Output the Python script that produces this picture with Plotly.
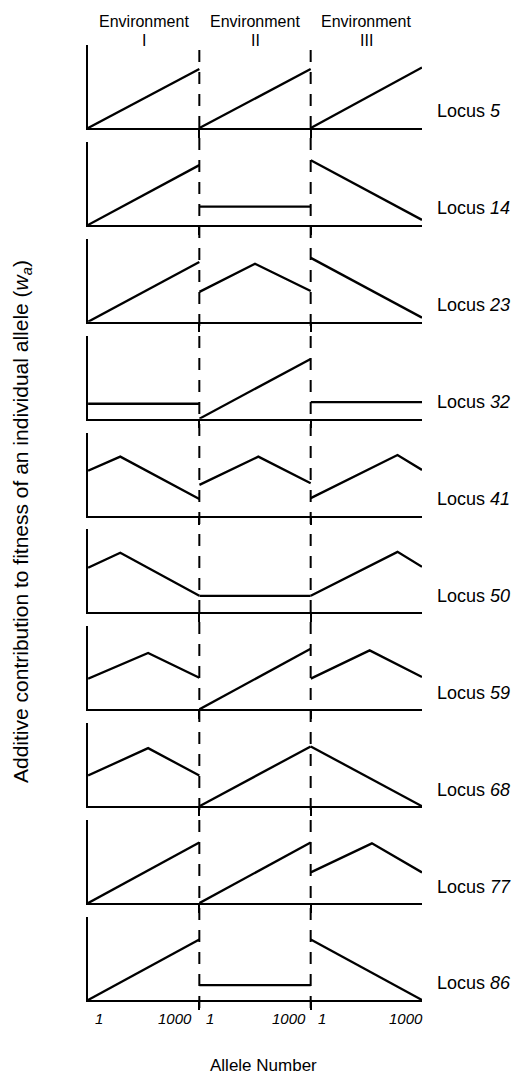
import plotly.graph_objects as go

# Each locus: three environments, each a list of (allele number, additive contribution)
# breakpoints.  Contributions are relative to the height of the panel (0 .. 1).
locus_5 = [[(1, 0.0), (1000, 0.71)], [(1, 0.0), (1000, 0.71)], [(1, 0.0), (1000, 0.73)]]
locus_14 = [[(1, 0.0), (1000, 0.72)], [(1, 0.22), (1000, 0.22)], [(1, 0.78), (1000, 0.06)]]
locus_23 = [[(1, 0.0), (1000, 0.72)], [(1, 0.36), (500, 0.70), (1000, 0.37)], [(1, 0.77), (1000, 0.05)]]
locus_32 = [[(1, 0.18), (1000, 0.18)], [(1, 0.0), (1000, 0.72)], [(1, 0.20), (1000, 0.20)]]
locus_41 = [[(1, 0.54), (290, 0.71), (1000, 0.20)], [(1, 0.37), (530, 0.71), (1000, 0.39)],
            [(1, 0.21), (780, 0.73), (1000, 0.55)]]
locus_50 = [[(1, 0.54), (290, 0.72), (1000, 0.20)], [(1, 0.20), (1000, 0.20)],
            [(1, 0.20), (780, 0.73), (1000, 0.55)]]
locus_59 = [[(1, 0.37), (540, 0.68), (1000, 0.38)], [(1, 0.0), (1000, 0.73)],
            [(1, 0.37), (530, 0.71), (1000, 0.39)]]
locus_68 = [[(1, 0.37), (540, 0.70), (1000, 0.37)], [(1, 0.0), (1000, 0.72)], [(1, 0.72), (1000, 0.0)]]
locus_77 = [[(1, 0.0), (1000, 0.73)], [(1, 0.0), (1000, 0.73)], [(1, 0.37), (550, 0.72), (1000, 0.37)]]
locus_86 = [[(1, 0.0), (1000, 0.73)], [(1, 0.18), (1000, 0.18)], [(1, 0.73), (1000, 0.0)]]

locus_ids = [5, 14, 23, 32, 41, 50, 59, 68, 77, 86]
loci = [locus_5, locus_14, locus_23, locus_32, locus_41, locus_50, locus_59, locus_68, locus_77, locus_86]

environments = ["I", "II", "III"]
alleles_per_env = 1000
tick_first, tick_last = "1", "1000"

# ---- layout geometry (pixels) ----
W, H = 520, 1079
ML, MR, MT, MB = 88, 98, 45, 79
plot_h = H - MT - MB
plot_w = W - ML - MR
panel_h = 83
pitch = (plot_h - panel_h) / (len(loci) - 1)


def py(px):
    """pixel row -> paper y"""
    return (H - MB - px) / plot_h


def pxx(px):
    """pixel column -> paper x"""
    return (px - ML) / plot_w


FONT = "Liberation Sans, Arial, Helvetica, sans-serif"
INK = "black"

fig = go.Figure()
layout_axes = {}
annotations = []

for i, (lid, segs) in enumerate(zip(locus_ids, loci)):
    k = i + 1
    sfx = "" if k == 1 else str(k)
    top_px = MT + i * pitch
    bot_px = top_px + panel_h
    for e, seg in enumerate(segs):
        xs = [e * alleles_per_env + a for a, _ in seg]
        ys = [v for _, v in seg]
        fig.add_trace(go.Scatter(
            x=xs, y=ys, mode="lines",
            line=dict(color=INK, width=2.3),
            xaxis="x" + sfx, yaxis="y" + sfx,
            showlegend=False, hoverinfo="skip",
        ))
    layout_axes["xaxis" + sfx] = dict(
        domain=[0, 1], range=[0, len(environments) * alleles_per_env],
        anchor="y" + sfx, showgrid=False, zeroline=False,
        showline=True, linecolor=INK, linewidth=1.6,
        ticks="outside", tickvals=[alleles_per_env * j for j in range(1, len(environments))],
        ticklen=8, tickwidth=1.6, tickcolor=INK, showticklabels=False,
    )
    layout_axes["yaxis" + sfx] = dict(
        domain=[py(bot_px), py(top_px)], range=[0, 1],
        anchor="x" + sfx, showgrid=False, zeroline=False,
        showline=True, linecolor=INK, linewidth=2,
        ticks="", showticklabels=False,
    )
    annotations.append(dict(
        text=f"Locus <i>{lid}</i>", xref="paper", x=pxx(435), xanchor="left",
        yref="y" + sfx, y=0.2, yanchor="middle", showarrow=False,
        font=dict(family=FONT, size=18, color=INK),
    ))

# environment headers
for e, name in enumerate(environments):
    xc = (e + 0.5) * alleles_per_env
    annotations.append(dict(text="Environment", xref="x", x=xc, yref="paper", y=py(22),
                            yanchor="middle", showarrow=False,
                            font=dict(family=FONT, size=16, color=INK)))
    annotations.append(dict(text=name, xref="x", x=xc, yref="paper", y=py(41),
                            yanchor="middle", showarrow=False,
                            font=dict(family=FONT, size=16, color=INK)))

# allele number labels under the bottom panel
last = str(len(loci))
end_shift = [-5, -3, 3]
for e in range(len(environments)):
    annotations.append(dict(text=f"<i>{tick_first}</i>", xref="x" + last, x=e * alleles_per_env,
                            xanchor="left", xshift=5, yref="paper", y=py(1018), yanchor="middle",
                            showarrow=False, font=dict(family=FONT, size=15, color=INK)))
    annotations.append(dict(text=f"<i>{tick_last}</i>", xref="x" + last, x=(e + 1) * alleles_per_env,
                            xanchor="right", xshift=end_shift[e], yref="paper", y=py(1018),
                            yanchor="middle", showarrow=False,
                            font=dict(family=FONT, size=15, color=INK)))

annotations.append(dict(text="Allele Number", xref="paper", x=pxx(263), yref="paper", y=py(1065),
                        yanchor="middle", showarrow=False,
                        font=dict(family=FONT, size=17, color=INK)))
annotations.append(dict(
    text="Additive contribution to fitness of an individual allele (<i>w</i><sub><i>a</i></sub>)",
    xref="paper", x=pxx(22), yref="paper", y=py(522), textangle=-90,
    xanchor="center", yanchor="middle", showarrow=False,
    font=dict(family=FONT, size=21, color=INK)))

# dashed environment boundaries running through all panels
shapes = []
for j in range(1, len(environments)):
    shapes.append(dict(type="line", xref="x", x0=j * alleles_per_env, x1=j * alleles_per_env,
                       yref="paper", y0=py(1008), y1=py(40),
                       line=dict(color=INK, width=2, dash="12px,10px")))

fig.update_layout(
    width=W, height=H,
    margin=dict(l=ML, r=MR, t=MT, b=MB),
    paper_bgcolor="white", plot_bgcolor="white",
    annotations=annotations, shapes=shapes, showlegend=False,
    **layout_axes,
)

fig.write_html("out.html")
